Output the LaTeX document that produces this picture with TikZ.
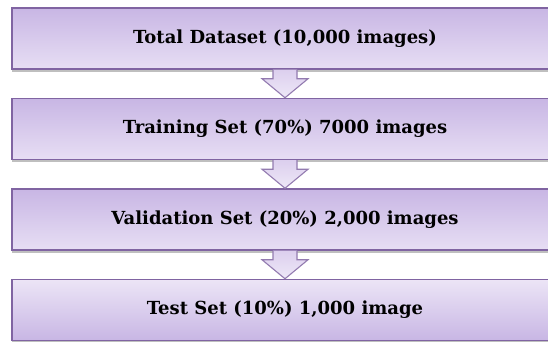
\documentclass[tikz,border=0pt]{standalone}
\usepackage{fontspec}
\setmainfont{DejaVu Serif}
\usetikzlibrary{calc,shadows}
\definecolor{boxtop}{HTML}{C8B6E4}
\definecolor{boxbot}{HTML}{E7DEF4}
\definecolor{boxline}{HTML}{8064A2}
\definecolor{arrtop}{HTML}{DCCFEE}
\definecolor{arrbot}{HTML}{EEE8F7}
\tikzset{
  stagebox/.style={draw=boxline, line width=1.5pt, minimum width=580pt, minimum height=61pt,
    inner sep=0pt, text=black,
    top color=boxtop, bottom color=boxbot,
    drop shadow={shadow xshift=0pt, shadow yshift=-3pt, opacity=0.45, fill=black!55}},
  lastbox/.style={stagebox, top color=boxbot!80!white, bottom color=boxtop},
  stagetext/.style={font=\bfseries\fontsize{18}{21}\selectfont, text=black, inner sep=0pt},
  blockarrow/.style={draw=boxline!85, line width=1.1pt, line join=miter, top color=arrtop, bottom color=arrbot}
}
\begin{document}
\begin{tikzpicture}[x=1pt,y=1pt]
\useasboundingbox (0,0) rectangle (548,342);
\fill[white] (0,0) rectangle (548,342);
\node[stagebox] (b1) at (302,303.5) {};
\node[stagebox] (b2) at (302,213) {};
\node[stagebox] (b3) at (302,122.5) {};
\node[lastbox] (b4) at (302,32) {};
\node[stagetext] (t1) at (285,303.5) {Total Dataset (10,000 images)};
\node[stagetext] (t2) at (285,213) {Training Set (70\%) 7000 images};
\node[stagetext] (t3) at (285,122.5) {Validation Set (20\%) 2,000 images};
\node[stagetext] (t4) at (285,32) {Test Set (10\%) 1,000 image};
\foreach \a/\b in {b1/b2, b2/b3, b3/b4}{
  \coordinate (s) at (\a.south -| t1.center);
  \coordinate (e) at (\b.north -| t1.center);
  \draw[blockarrow] ($(s)+(-12,0)$) -- ($(s)+(-12,-9)$) -- ($(s)+(-23,-9)$)
    -- (e) -- ($(s)+(23,-9)$) -- ($(s)+(12,-9)$) -- ($(s)+(12,0)$);
}
\end{tikzpicture}
\end{document}
